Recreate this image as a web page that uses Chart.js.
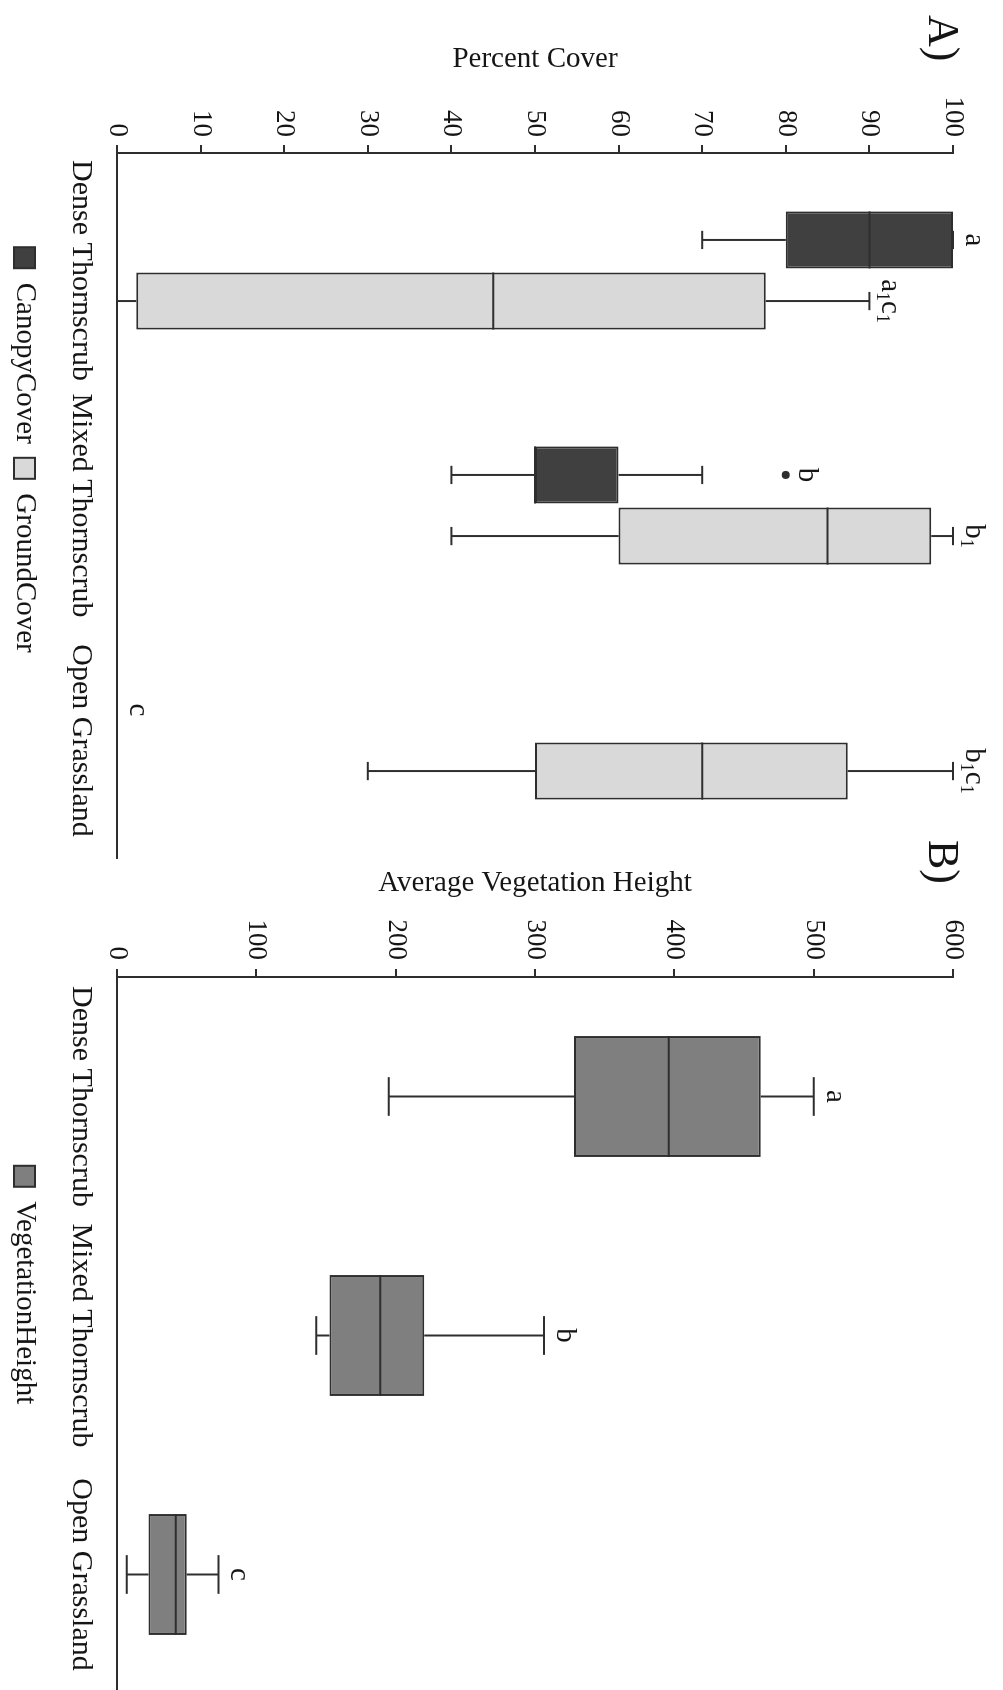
<!DOCTYPE html>
<html>
<head>
<meta charset="utf-8">
<script src="https://cdn.jsdelivr.net/npm/chart.js@4.4.1/dist/chart.umd.min.js"></script>
<style>
  html, body { margin: 0; padding: 0; width: 1003px; height: 1690px; overflow: hidden; background: #fff; }
  /* the figure is laid out sideways, so draw it unrotated and turn it 90deg clockwise */
  #rot { position: absolute; left: 0; top: 0; width: 1690px; height: 1003px;
         transform-origin: 0 0; transform: translate(1003px, 0) rotate(90deg); }
  #rot canvas { position: absolute; top: 0; }
</style>
</head>
<body>
<div id="rot">
  <canvas id="chartA" width="900" height="1003" style="left:0"></canvas>
  <canvas id="chartB" width="880" height="1003" style="left:830px"></canvas>
</div>
<script>
// ── data ──────────────────────────────────────────────────
const CATEGORIES = ['Dense Thornscrub', 'Mixed Thornscrub', 'Open Grassland'];

// panel A – percent cover
const CANOPY_MIN      = [70, 40, null];
const CANOPY_Q1       = [80, 50, null];
const CANOPY_MED      = [90, 50, null];
const CANOPY_Q3       = [100, 60, null];
const CANOPY_MAX      = [100, 70, null];
const CANOPY_OUTLIERS = [[], [80], []];
const CANOPY_LETTERS  = ['a', 'b', 'c'];

const GROUND_MIN      = [0, 40, 30];
const GROUND_Q1       = [2.3, 60, 50];
const GROUND_MED      = [45, 85, 70];
const GROUND_Q3       = [77.6, 97.4, 87.4];
const GROUND_MAX      = [90, 100, 100];
const GROUND_OUTLIERS = [[], [], []];
const GROUND_LETTERS  = ['a_1c_1', 'b_1', 'b_1c_1'];

// panel B – average vegetation height
const HEIGHT_MIN      = [195, 143, 7];
const HEIGHT_Q1       = [328, 152.5, 22.6];
const HEIGHT_MED      = [396, 189, 42.2];
const HEIGHT_Q3       = [462, 220.5, 50];
const HEIGHT_MAX      = [500, 306.5, 72.8];
const HEIGHT_OUTLIERS = [[], [], []];
const HEIGHT_LETTERS  = ['a', 'b', 'c'];

const PCT_RANGE = [0, 100],  PCT_STEP = 10;
const HGT_RANGE = [0, 600],  HGT_STEP = 100;

// ── style ─────────────────────────────────────────────────
const TEXT = '#151515';
const LINE = '#2e2e2e';
const FONT = "'Liberation Serif', 'Times New Roman', serif";
Chart.defaults.font.family = FONT;
Chart.defaults.color = TEXT;

// floating bar [q1, q3] per category, null where there is no box
function boxes(q1, q3) {
  return q1.map((v, i) => v == null ? null : [v, q3[i]]);
}

// draw 'a_1c_1' style letters: '_' makes the next char a subscript
function drawLetters(ctx, str, x, y) {
  const parts = [];
  for (let i = 0; i < str.length; i++) {
    if (str[i] === '_') { parts.push({ t: str[i + 1], sub: true }); i++; }
    else parts.push({ t: str[i], sub: false });
  }
  const main = '29px ' + FONT, sub = '18px ' + FONT;
  let total = 0;
  parts.forEach(p => { ctx.font = p.sub ? sub : main; p.w = ctx.measureText(p.t).width; total += p.w; });
  let cx = x - total / 2;
  ctx.textAlign = 'left';
  ctx.textBaseline = 'alphabetic';
  parts.forEach(p => {
    ctx.font = p.sub ? sub : main;
    ctx.fillText(p.t, cx, p.sub ? y + 5 : y);
    cx += p.w;
  });
}

// whiskers, medians, outliers and letters on top of the floating bars
const boxPlot = {
  id: 'boxPlot',
  afterDatasetsDraw(chart) {
    const ctx = chart.ctx;
    const y = chart.scales.y;
    chart.data.datasets.forEach((ds, di) => {
      const s = ds.stats;
      const meta = chart.getDatasetMeta(di);
      CATEGORIES.forEach((c, i) => {
        const bar = meta.data[i];
        if (!bar) return;
        const cx = bar.x;
        ctx.save();
        ctx.strokeStyle = LINE;
        ctx.fillStyle = LINE;
        ctx.lineWidth = 2;
        let top = y.getPixelForValue(0);
        if (s.med[i] != null) {
          const w = bar.width;
          const cap = w * 0.32;
          const seg = (x1, y1, x2, y2) => { ctx.beginPath(); ctx.moveTo(x1, y1); ctx.lineTo(x2, y2); ctx.stroke(); };
          const pMax = y.getPixelForValue(s.max[i]);
          const pMin = y.getPixelForValue(s.min[i]);
          seg(cx, y.getPixelForValue(s.q3[i]), cx, pMax);
          seg(cx - cap / 2, pMax, cx + cap / 2, pMax);
          seg(cx, y.getPixelForValue(s.q1[i]), cx, pMin);
          seg(cx - cap / 2, pMin, cx + cap / 2, pMin);
          const pMed = y.getPixelForValue(s.med[i]);
          seg(cx - w / 2, pMed, cx + w / 2, pMed);
          top = pMax;
          s.out[i].forEach(v => {
            const py = y.getPixelForValue(v);
            ctx.beginPath(); ctx.arc(cx, py, 4, 0, Math.PI * 2); ctx.fill();
            top = Math.min(top, py);
          });
        }
        ctx.fillStyle = TEXT;
        drawLetters(ctx, s.letters[i], cx, top - 13);
        ctx.restore();
      });
    });
  },
};

// panel tag "A)" / "B)"
const panelTag = {
  id: 'panelTag',
  afterDraw(chart, args, opts) {
    const ctx = chart.ctx;
    ctx.save();
    ctx.font = '44px ' + FONT;
    ctx.fillStyle = TEXT;
    ctx.textAlign = 'left';
    ctx.textBaseline = 'middle';
    ctx.fillText(opts.text, opts.x, 62);
    ctx.restore();
  },
};

// shared axis pieces
function catAxis() {
  return {
    offset: true,
    grid: { display: false },
    border: { display: true, color: LINE, width: 2 },
    ticks: { padding: 10, font: { size: 30 }, color: TEXT, maxRotation: 0, autoSkip: false },
    // value 0 sits 117px above the canvas bottom, legend included
    afterFit: s => { s.height = 117 - (s.chart.legend ? s.chart.legend.height : 0); },
  };
}
function valueAxis(range, step, title, width, tickPad, titlePad) {
  return {
    min: range[0], max: range[1],
    ticks: { stepSize: step, padding: tickPad, font: { size: 27 }, color: TEXT },
    grid: { drawOnChartArea: false, drawTicks: true, tickLength: 8, color: LINE, lineWidth: 2 },
    border: { display: true, color: LINE, width: 2 },
    title: { display: true, text: title, font: { size: 29 }, color: TEXT, padding: { top: titlePad, bottom: 0 } },
    afterFit: s => { s.width = width; },
  };
}
const legendOpts = {
  position: 'bottom',
  labels: { boxWidth: 21, boxHeight: 21, padding: 14, font: { size: 29 }, color: TEXT },
};

// ── panel A ───────────────────────────────────────────────
new Chart(document.getElementById('chartA'), {
  type: 'bar',
  data: {
    labels: CATEGORIES,
    datasets: [
      {
        label: 'CanopyCover',
        data: boxes(CANOPY_Q1, CANOPY_Q3),
        backgroundColor: '#404040',
        borderColor: LINE, borderWidth: 2, borderSkipped: false,
        categoryPercentage: 0.52, barPercentage: 0.934,
        stats: { min: CANOPY_MIN, q1: CANOPY_Q1, med: CANOPY_MED, q3: CANOPY_Q3, max: CANOPY_MAX,
                 out: CANOPY_OUTLIERS, letters: CANOPY_LETTERS },
      },
      {
        label: 'GroundCover',
        data: boxes(GROUND_Q1, GROUND_Q3),
        backgroundColor: '#d9d9d9',
        borderColor: LINE, borderWidth: 2, borderSkipped: false,
        categoryPercentage: 0.52, barPercentage: 0.934,
        stats: { min: GROUND_MIN, q1: GROUND_Q1, med: GROUND_MED, q3: GROUND_Q3, max: GROUND_MAX,
                 out: GROUND_OUTLIERS, letters: GROUND_LETTERS },
      },
    ],
  },
  options: {
    responsive: false,
    animation: false,
    devicePixelRatio: 1,
    layout: { padding: { left: 42, right: 42, top: 50, bottom: 0 } },
    plugins: {
      legend: legendOpts,
      tooltip: { enabled: false },
      panelTag: { text: 'A)', x: 15 },
    },
    scales: {
      x: catAxis(),
      y: valueAxis(PCT_RANGE, PCT_STEP, 'Percent Cover', 111, 8, 0),
    },
  },
  plugins: [boxPlot, panelTag],
});

// ── panel B ───────────────────────────────────────────────
new Chart(document.getElementById('chartB'), {
  type: 'bar',
  data: {
    labels: CATEGORIES,
    datasets: [
      {
        label: 'VegetationHeight',
        data: boxes(HEIGHT_Q1, HEIGHT_Q3),
        backgroundColor: '#7f7f7f',
        borderColor: LINE, borderWidth: 2, borderSkipped: false,
        categoryPercentage: 0.506, barPercentage: 1,
        stats: { min: HEIGHT_MIN, q1: HEIGHT_Q1, med: HEIGHT_MED, q3: HEIGHT_Q3, max: HEIGHT_MAX,
                 out: HEIGHT_OUTLIERS, letters: HEIGHT_LETTERS },
      },
    ],
  },
  options: {
    responsive: false,
    animation: false,
    devicePixelRatio: 1,
    layout: { padding: { left: 46, right: 16, top: 50, bottom: 0 } },
    plugins: {
      legend: legendOpts,
      tooltip: { enabled: false },
      panelTag: { text: 'B)', x: 10 },
    },
    scales: {
      x: catAxis(),
      y: valueAxis(HGT_RANGE, HGT_STEP, 'Average Vegetation Height', 101, 9, -10),
    },
  },
  plugins: [boxPlot, panelTag],
});
</script>
</body>
</html>
